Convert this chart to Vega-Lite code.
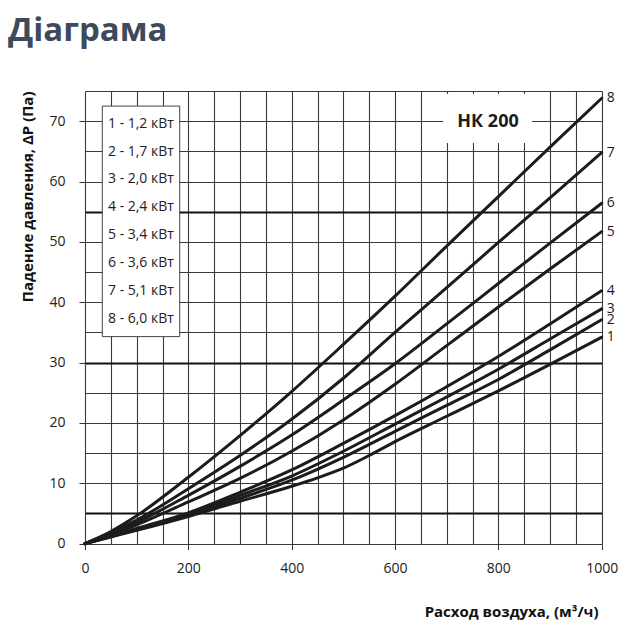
{
  "$schema": "https://vega.github.io/schema/vega-lite/v6.json",
  "autosize": "none",
  "width": 516.7,
  "height": 452.6,
  "padding": {"left": 85, "top": 91, "right": 38, "bottom": 96},
  "background": "white",
  "title": {
    "text": "Діаграма",
    "anchor": "start",
    "frame": "group",
    "dx": -77,
    "offset": 10,
    "font": "Open Sans",
    "fontSize": 33,
    "fontWeight": "bold",
    "color": "#3e4a5c",
    "baseline": "alphabetic"
  },
  "config": {
    "view": {"stroke": null},
    "font": "Open Sans",
    "legend": {
      "orient": "none",
      "legendX": -2,
      "legendY": 14.6,
      "title": null,
      "symbolSize": 0,
      "symbolOpacity": 0,
      "symbolStrokeWidth": 0,
      "labelFont": "Open Sans",
      "labelFontSize": 14,
      "labelColor": "#222222",
      "rowPadding": 13.9,
      "padding": 11,
      "labelOffset": 0
    }
  },
  "datasets": {
    "curves": [
      {"q": 0, "dp": 0, "n": "1", "name": "1 - 1,2 кВт"},
      {"q": 50, "dp": 1.1, "n": "1", "name": "1 - 1,2 кВт"},
      {"q": 100, "dp": 2.2, "n": "1", "name": "1 - 1,2 кВт"},
      {"q": 200, "dp": 4.5, "n": "1", "name": "1 - 1,2 кВт"},
      {"q": 300, "dp": 7.0, "n": "1", "name": "1 - 1,2 кВт"},
      {"q": 400, "dp": 9.5, "n": "1", "name": "1 - 1,2 кВт"},
      {"q": 450, "dp": 10.9, "n": "1", "name": "1 - 1,2 кВт"},
      {"q": 500, "dp": 12.5, "n": "1", "name": "1 - 1,2 кВт"},
      {"q": 550, "dp": 14.6, "n": "1", "name": "1 - 1,2 кВт"},
      {"q": 600, "dp": 16.9, "n": "1", "name": "1 - 1,2 кВт"},
      {"q": 700, "dp": 21.1, "n": "1", "name": "1 - 1,2 кВт"},
      {"q": 800, "dp": 25.3, "n": "1", "name": "1 - 1,2 кВт"},
      {"q": 900, "dp": 29.7, "n": "1", "name": "1 - 1,2 кВт"},
      {"q": 1000, "dp": 34.2, "n": "1", "name": "1 - 1,2 кВт"},

      {"q": 0, "dp": 0, "n": "2", "name": "2 - 1,7 кВт"},
      {"q": 50, "dp": 1.15, "n": "2", "name": "2 - 1,7 кВт"},
      {"q": 100, "dp": 2.3, "n": "2", "name": "2 - 1,7 кВт"},
      {"q": 200, "dp": 4.7, "n": "2", "name": "2 - 1,7 кВт"},
      {"q": 300, "dp": 7.5, "n": "2", "name": "2 - 1,7 кВт"},
      {"q": 400, "dp": 10.5, "n": "2", "name": "2 - 1,7 кВт"},
      {"q": 500, "dp": 14.3, "n": "2", "name": "2 - 1,7 кВт"},
      {"q": 600, "dp": 18.6, "n": "2", "name": "2 - 1,7 кВт"},
      {"q": 700, "dp": 22.9, "n": "2", "name": "2 - 1,7 кВт"},
      {"q": 800, "dp": 27.2, "n": "2", "name": "2 - 1,7 кВт"},
      {"q": 900, "dp": 32.1, "n": "2", "name": "2 - 1,7 кВт"},
      {"q": 1000, "dp": 37.1, "n": "2", "name": "2 - 1,7 кВт"},

      {"q": 0, "dp": 0, "n": "3", "name": "3 - 2,0 кВт"},
      {"q": 50, "dp": 1.2, "n": "3", "name": "3 - 2,0 кВт"},
      {"q": 100, "dp": 2.4, "n": "3", "name": "3 - 2,0 кВт"},
      {"q": 200, "dp": 4.9, "n": "3", "name": "3 - 2,0 кВт"},
      {"q": 300, "dp": 8.0, "n": "3", "name": "3 - 2,0 кВт"},
      {"q": 400, "dp": 11.2, "n": "3", "name": "3 - 2,0 кВт"},
      {"q": 500, "dp": 15.3, "n": "3", "name": "3 - 2,0 кВт"},
      {"q": 600, "dp": 19.8, "n": "3", "name": "3 - 2,0 кВт"},
      {"q": 700, "dp": 24.3, "n": "3", "name": "3 - 2,0 кВт"},
      {"q": 800, "dp": 28.9, "n": "3", "name": "3 - 2,0 кВт"},
      {"q": 900, "dp": 33.9, "n": "3", "name": "3 - 2,0 кВт"},
      {"q": 1000, "dp": 38.9, "n": "3", "name": "3 - 2,0 кВт"},

      {"q": 0, "dp": 0, "n": "4", "name": "4 - 2,4 кВт"},
      {"q": 50, "dp": 1.2, "n": "4", "name": "4 - 2,4 кВт"},
      {"q": 100, "dp": 2.5, "n": "4", "name": "4 - 2,4 кВт"},
      {"q": 200, "dp": 5.1, "n": "4", "name": "4 - 2,4 кВт"},
      {"q": 300, "dp": 8.5, "n": "4", "name": "4 - 2,4 кВт"},
      {"q": 400, "dp": 12.2, "n": "4", "name": "4 - 2,4 кВт"},
      {"q": 500, "dp": 16.6, "n": "4", "name": "4 - 2,4 кВт"},
      {"q": 600, "dp": 21.2, "n": "4", "name": "4 - 2,4 кВт"},
      {"q": 700, "dp": 26.0, "n": "4", "name": "4 - 2,4 кВт"},
      {"q": 800, "dp": 31.0, "n": "4", "name": "4 - 2,4 кВт"},
      {"q": 900, "dp": 36.4, "n": "4", "name": "4 - 2,4 кВт"},
      {"q": 1000, "dp": 41.9, "n": "4", "name": "4 - 2,4 кВт"},

      {"q": 0, "dp": 0, "n": "5", "name": "5 - 3,4 кВт"},
      {"q": 50, "dp": 1.4, "n": "5", "name": "5 - 3,4 кВт"},
      {"q": 100, "dp": 3.1, "n": "5", "name": "5 - 3,4 кВт"},
      {"q": 200, "dp": 6.9, "n": "5", "name": "5 - 3,4 кВт"},
      {"q": 300, "dp": 10.8, "n": "5", "name": "5 - 3,4 кВт"},
      {"q": 400, "dp": 15.3, "n": "5", "name": "5 - 3,4 кВт"},
      {"q": 500, "dp": 20.5, "n": "5", "name": "5 - 3,4 кВт"},
      {"q": 600, "dp": 26.4, "n": "5", "name": "5 - 3,4 кВт"},
      {"q": 700, "dp": 32.8, "n": "5", "name": "5 - 3,4 кВт"},
      {"q": 800, "dp": 39.2, "n": "5", "name": "5 - 3,4 кВт"},
      {"q": 900, "dp": 45.5, "n": "5", "name": "5 - 3,4 кВт"},
      {"q": 1000, "dp": 51.7, "n": "5", "name": "5 - 3,4 кВт"},

      {"q": 0, "dp": 0, "n": "6", "name": "6 - 3,6 кВт"},
      {"q": 50, "dp": 1.6, "n": "6", "name": "6 - 3,6 кВт"},
      {"q": 100, "dp": 3.5, "n": "6", "name": "6 - 3,6 кВт"},
      {"q": 200, "dp": 8.0, "n": "6", "name": "6 - 3,6 кВт"},
      {"q": 300, "dp": 12.8, "n": "6", "name": "6 - 3,6 кВт"},
      {"q": 400, "dp": 18.0, "n": "6", "name": "6 - 3,6 кВт"},
      {"q": 500, "dp": 23.8, "n": "6", "name": "6 - 3,6 кВт"},
      {"q": 600, "dp": 29.8, "n": "6", "name": "6 - 3,6 кВт"},
      {"q": 700, "dp": 36.4, "n": "6", "name": "6 - 3,6 кВт"},
      {"q": 800, "dp": 43.1, "n": "6", "name": "6 - 3,6 кВт"},
      {"q": 900, "dp": 49.8, "n": "6", "name": "6 - 3,6 кВт"},
      {"q": 1000, "dp": 56.4, "n": "6", "name": "6 - 3,6 кВт"},

      {"q": 0, "dp": 0, "n": "7", "name": "7 - 5,1 кВт"},
      {"q": 50, "dp": 1.8, "n": "7", "name": "7 - 5,1 кВт"},
      {"q": 100, "dp": 3.9, "n": "7", "name": "7 - 5,1 кВт"},
      {"q": 200, "dp": 9.1, "n": "7", "name": "7 - 5,1 кВт"},
      {"q": 300, "dp": 14.6, "n": "7", "name": "7 - 5,1 кВт"},
      {"q": 400, "dp": 20.6, "n": "7", "name": "7 - 5,1 кВт"},
      {"q": 500, "dp": 27.4, "n": "7", "name": "7 - 5,1 кВт"},
      {"q": 600, "dp": 35.0, "n": "7", "name": "7 - 5,1 кВт"},
      {"q": 700, "dp": 42.4, "n": "7", "name": "7 - 5,1 кВт"},
      {"q": 800, "dp": 49.9, "n": "7", "name": "7 - 5,1 кВт"},
      {"q": 900, "dp": 57.3, "n": "7", "name": "7 - 5,1 кВт"},
      {"q": 1000, "dp": 64.8, "n": "7", "name": "7 - 5,1 кВт"},

      {"q": 0, "dp": 0, "n": "8", "name": "8 - 6,0 кВт"},
      {"q": 50, "dp": 2.0, "n": "8", "name": "8 - 6,0 кВт"},
      {"q": 100, "dp": 4.6, "n": "8", "name": "8 - 6,0 кВт"},
      {"q": 200, "dp": 11.0, "n": "8", "name": "8 - 6,0 кВт"},
      {"q": 300, "dp": 17.9, "n": "8", "name": "8 - 6,0 кВт"},
      {"q": 400, "dp": 25.2, "n": "8", "name": "8 - 6,0 кВт"},
      {"q": 500, "dp": 33.0, "n": "8", "name": "8 - 6,0 кВт"},
      {"q": 600, "dp": 41.0, "n": "8", "name": "8 - 6,0 кВт"},
      {"q": 700, "dp": 49.3, "n": "8", "name": "8 - 6,0 кВт"},
      {"q": 800, "dp": 57.5, "n": "8", "name": "8 - 6,0 кВт"},
      {"q": 900, "dp": 65.7, "n": "8", "name": "8 - 6,0 кВт"},
      {"q": 1000, "dp": 73.8, "n": "8", "name": "8 - 6,0 кВт"}
    ]
  },
  "layer": [
    {
      "data": {"values": [{"box": "legend"}]},
      "mark": {"type": "rect", "fill": "white", "stroke": "#444444", "strokeWidth": 1},
      "encoding": {
        "x": {"datum": 33.5, "type": "quantitative"},
        "x2": {"datum": 183.3},
        "y": {"datum": 72.5, "type": "quantitative"},
        "y2": {"datum": 34.3}
      }
    },
    {
      "data": {"values": [{"box": "model"}]},
      "mark": {"type": "rect", "fill": "white", "stroke": null},
      "encoding": {
        "x": {"datum": 693, "type": "quantitative"},
        "x2": {"datum": 865},
        "y": {"datum": 74.5, "type": "quantitative"},
        "y2": {"datum": 66.4}
      }
    },
    {
      "data": {"name": "curves"},
      "mark": {"type": "line", "interpolate": "monotone", "strokeWidth": 3, "strokeCap": "round", "strokeJoin": "round"},
      "encoding": {
        "x": {
          "field": "q",
          "type": "quantitative",
          "scale": {"domain": [0, 1000], "nice": false, "zero": false},
          "axis": {
            "title": "Расход воздуха, (м³/ч)",
            "titleX": 513,
            "titleAlign": "right",
            "titleFont": "Open Sans",
            "titleFontSize": 15,
            "titleFontWeight": "bold",
            "titleColor": "#111111",
            "titlePadding": 29,
            "tickCount": 20,
            "format": "d",
            "labelExpr": "datum.value % 200 === 0 ? datum.label : ''",
            "labelFont": "Open Sans",
            "labelFontSize": 14,
            "labelColor": "#222222",
            "labelPadding": 12,
            "labelFlush": false,
            "labelOverlap": false,
            "domain": false,
            "tickSize": 6,
            "tickColor": "#333333",
            "tickOpacity": {"condition": {"test": "datum.value % 200 === 0", "value": 1}, "value": 0},
            "grid": true,
            "gridColor": "#3a3a3a",
            "gridWidth": 1.1,
            "gridOpacity": 1
          }
        },
        "y": {
          "field": "dp",
          "type": "quantitative",
          "scale": {"domain": [0, 75], "nice": false},
          "axis": {
            "title": "Падение давления, ΔP (Па)",
            "titleAnchor": "end",
            "titleFont": "Open Sans",
            "titleFontSize": 15,
            "titleFontWeight": "bold",
            "titleColor": "#111111",
            "titlePadding": 13,
            "tickCount": 15,
            "labelExpr": "datum.value % 10 === 0 ? datum.label : ''",
            "labelFont": "Open Sans",
            "labelFontSize": 14,
            "labelColor": "#222222",
            "labelPadding": 14,
            "labelFlush": false,
            "labelOverlap": false,
            "domain": false,
            "tickSize": 6,
            "tickColor": "#333333",
            "tickOpacity": {"condition": {"test": "datum.value % 10 === 0 && datum.value < 75", "value": 1}, "value": 0},
            "grid": true,
            "gridColor": {"condition": {"test": "datum.value === 5 || datum.value === 30 || datum.value === 55", "value": "#111111"}, "value": "#3a3a3a"},
            "gridWidth": {"condition": {"test": "datum.value === 5 || datum.value === 30 || datum.value === 55", "value": 2}, "value": 1.1},
            "gridOpacity": 1
          }
        },
        "color": {
          "field": "name",
          "type": "nominal",
          "scale": {"range": ["#1c1c1c", "#1c1c1c", "#1c1c1c", "#1c1c1c", "#1c1c1c", "#1c1c1c", "#1c1c1c", "#1c1c1c"]}
        },
        "detail": {"field": "n", "type": "nominal"}
      }
    },
    {
      "data": {"name": "curves"},
      "transform": [{"filter": "datum.q === 1000"}],
      "mark": {"type": "text", "align": "left", "baseline": "middle", "dx": 5, "fontSize": 14, "font": "Open Sans", "fontWeight": "normal", "color": "#1c1c1c"},
      "encoding": {
        "x": {"field": "q", "type": "quantitative"},
        "y": {"field": "dp", "type": "quantitative"},
        "yOffset": {
          "field": "n",
          "type": "nominal",
          "scale": {"type": "ordinal", "domain": ["1", "2", "3", "4", "5", "6", "7", "8"], "range": [-3.2, -0.6, -7, -6.5, -2.7, -2, -2.7, -2.3]}
        },
        "text": {"field": "n", "type": "nominal"}
      }
    },
    {
      "data": {"values": [{"label": "НК 200"}]},
      "mark": {"type": "text", "align": "center", "baseline": "middle", "fontSize": 18, "font": "Open Sans", "fontWeight": "bold", "color": "#1c1c1c"},
      "encoding": {
        "x": {"datum": 780, "type": "quantitative"},
        "y": {"datum": 69.8, "type": "quantitative"},
        "text": {"field": "label", "type": "nominal"}
      }
    }
  ]
}
